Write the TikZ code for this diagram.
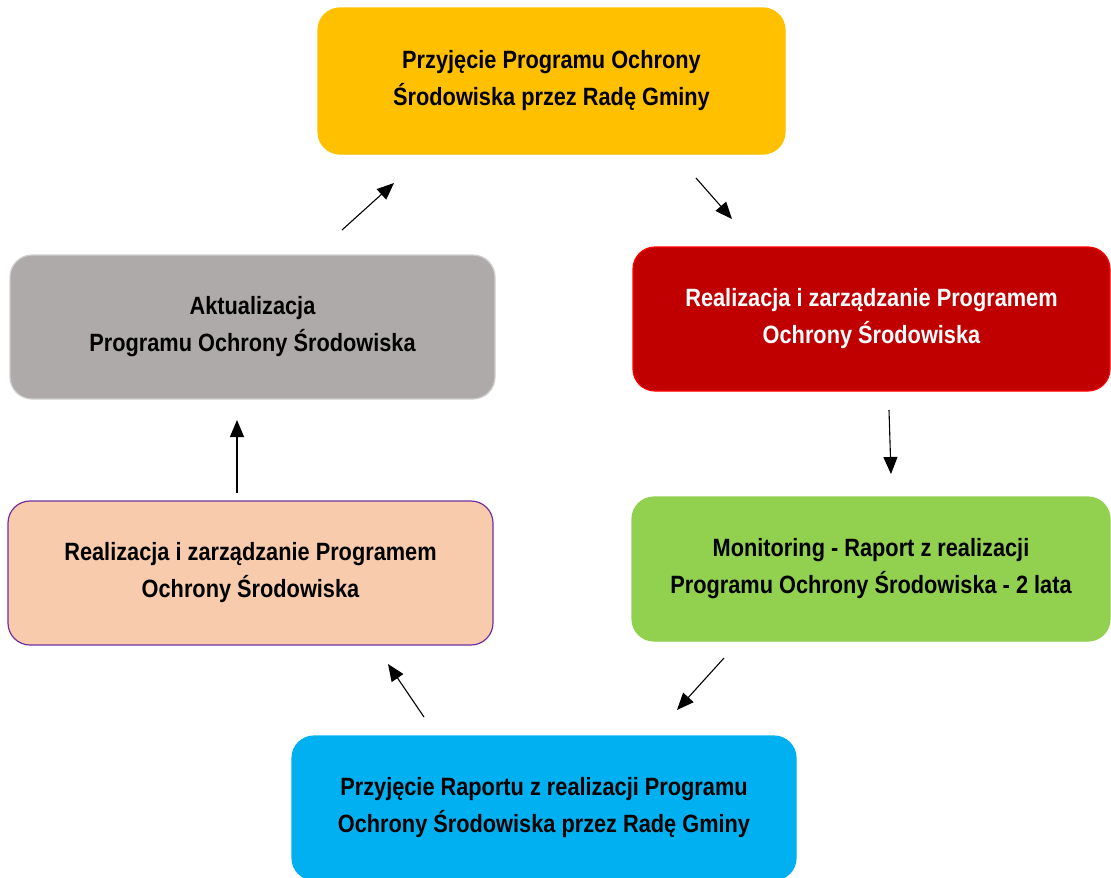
\documentclass[tikz,border=0pt]{standalone}
\usepackage{fontspec}
\setmainfont[FakeStretch=0.87]{Liberation Sans}
\usetikzlibrary{arrows.meta}
\definecolor{cyellow}{HTML}{FFC000}
\definecolor{cred}{HTML}{C00000}
\definecolor{credb}{HTML}{FF0000}
\definecolor{cgreen}{HTML}{92D050}
\definecolor{cblue}{HTML}{00B0F0}
\definecolor{cpeach}{HTML}{F8CBAD}
\definecolor{cpurple}{HTML}{7030A0}
\definecolor{cgray}{HTML}{AEAAAA}
\definecolor{cgrayb}{HTML}{D0CECE}
\tikzset{
  box/.style={rectangle, rounded corners=22pt, align=center, inner sep=0pt,
    font=\fontsize{25}{37}\selectfont\bfseries, line width=1.2pt},
  arr/.style={line width=1.1pt, -{Triangle[length=17pt,width=14pt]}}
}
\begin{document}
\begin{tikzpicture}[x=1pt,y=-1pt]
\useasboundingbox (0,0) rectangle (1111,878);
\node[box, fill=cyellow, draw=cyellow, minimum width=467pt, minimum height=146pt] (a) at (551.5,81) {Przyjęcie Programu Ochrony\\Środowiska przez Radę Gminy};
\node[box, fill=cred, draw=credb, text=white, minimum width=477pt, minimum height=144pt] (b) at (871.5,319) {Realizacja i zarządzanie Programem\\Ochrony Środowiska};
\node[box, fill=cgreen, draw=cgreen, minimum width=478pt, minimum height=144pt] (c) at (871,569) {Monitoring - Raport z realizacji\\Programu Ochrony Środowiska - 2 lata};
\node[box, fill=cblue, draw=cblue, minimum width=504pt, minimum height=144pt] (d) at (544,808) {Przyjęcie Raportu z realizacji Programu\\Ochrony Środowiska przez Radę Gminy};
\node[box, fill=cpeach, draw=cpurple, minimum width=485pt, minimum height=144pt] (e) at (250.5,573) {Realizacja i zarządzanie Programem\\Ochrony Środowiska};
\node[box, fill=cgray, draw=cgrayb, minimum width=485pt, minimum height=144pt] (f) at (252.5,327) {Aktualizacja\\Programu Ochrony Środowiska};
\coordinate (p1) at (342,230); \coordinate (q1) at (394,183);
\coordinate (p2) at (696,178); \coordinate (q2) at (732,219);
\coordinate (p3) at (889,410); \coordinate (q3) at (891,474);
\coordinate (p4) at (724,658); \coordinate (q4) at (677,710);
\coordinate (p5) at (424,717); \coordinate (q5) at (388,664);
\coordinate (p6) at (237,493); \coordinate (q6) at (237,420);
\draw[arr] (p1) -- (q1);
\draw[arr] (p2) -- (q2);
\draw[arr] (p3) -- (q3);
\draw[arr] (p4) -- (q4);
\draw[arr] (p5) -- (q5);
\draw[arr] (p6) -- (q6);
\end{tikzpicture}
\end{document}
